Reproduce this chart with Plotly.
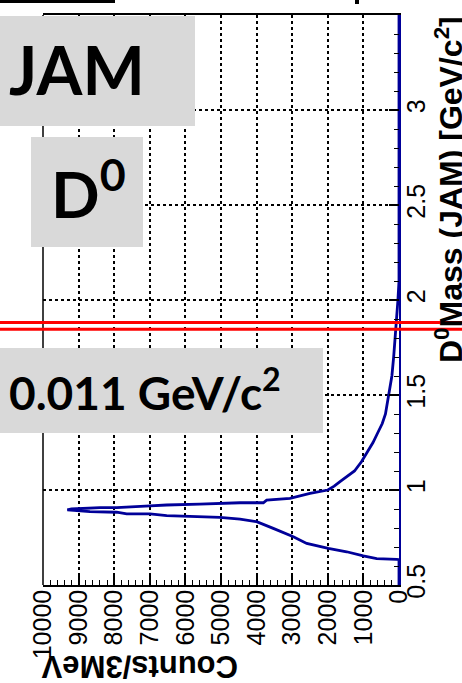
import plotly.graph_objects as go

# ---- data ----
mass = [0.500, 0.634, 0.635, 0.639, 0.653, 0.675, 0.693, 0.719, 0.754, 0.781,
        0.798, 0.833, 0.847, 0.856, 0.865, 0.874, 0.874, 0.883, 0.886, 0.895,
        0.900, 0.907, 0.907, 0.916, 0.921, 0.926, 0.930, 0.933, 0.933, 0.947,
        0.956, 0.970, 0.982, 1.000, 1.020, 1.044, 1.070, 1.100, 1.150, 1.200, 1.250, 1.300,
        1.350, 1.400, 1.500, 1.600, 1.700, 1.800, 1.900, 2.000, 2.100, 3.500]
counts = [0, 0, 65, 626, 1003, 1470, 1986, 2593, 2968, 3343,
          3532, 4000, 4466, 5030, 6525, 6994, 7649, 7930, 8680, 9317,
          9200, 8399, 7930, 6994, 6525, 5600, 5000, 4466, 3811, 3717,
          3062, 2750, 2500, 2000, 1820, 1657, 1470, 1250, 1050, 880, 730, 600,
          470, 380, 280, 200, 150, 105, 60, 30, 0, 0]

count_ticks = [0, 1000, 2000, 3000, 4000, 5000, 6000, 7000, 8000, 9000, 10000]
count_labels = ["0", "1000", "2000", "3000", "4000", "5000", "6000", "7000", "8000", "9000", "10000"]
mass_ticks = [0.5, 1.0, 1.5, 2.0, 2.5, 3.0, 3.5]
mass_labels = ["0.5", "1", "1.5", "2", "2.5", "3", "3.5"]
window_lines = [1.846, 1.881]

# ---- layout geometry (pixels) ----
W, H = 462, 683
L, R, T, B = 43, 63, 15, 98
PW, PH = W - L - R, H - T - B


def px(x):
    return (x - L) / PW


def py(y):
    return (H - B - y) / PH


BLUE = "#000099"
GRAY = "#d9d9d9"
TICKFONT = dict(family="Liberation Sans, Arial, sans-serif", size=25, color="black")

fig = go.Figure()
fig.add_trace(go.Scatter(x=counts, y=mass, mode="lines",
                         line=dict(color=BLUE, width=2.8), showlegend=False,
                         hoverinfo="skip"))

grid = dict(showgrid=True, gridcolor="black", gridwidth=1.6, griddash="3px,3px")

fig.update_xaxes(range=[10000, 0], tickmode="array", tickvals=count_ticks,
                 ticktext=count_labels, tickangle=-90, ticks="inside",
                 ticklen=10, tickwidth=1.5, tickcolor="black",
                 minor=dict(dtick=200, ticks="inside", ticklen=5, tickwidth=1.2,
                            tickcolor="black", showgrid=False),
                 showline=True, linecolor="black", linewidth=1.5, mirror=True,
                 zeroline=False, tickfont=TICKFONT, ticklabelstandoff=-7, **grid)
fig.update_yaxes(range=[0.5, 3.5], side="right", tickmode="array",
                 tickvals=mass_ticks, ticktext=mass_labels, tickangle=-90,
                 ticks="inside", ticklen=10, tickwidth=1.5, tickcolor="black",
                 minor=dict(dtick=0.1, ticks="inside", ticklen=5, tickwidth=1.2,
                            tickcolor="black", showgrid=False),
                 showline=True, linecolor=BLUE, linewidth=2, mirror=False,
                 zeroline=False, tickfont=TICKFONT, ticklabelstandoff=-6, **grid)

shapes = []
# left frame line
shapes.append(dict(type="line", xref="paper", yref="paper", x0=0, x1=0, y0=0, y1=1,
                   line=dict(color="black", width=1.5), layer="above"))
# gray boxes
for (x0, y0, x1, y1) in [(0, 16, 195, 126), (31, 137, 143, 247), (0, 348, 323, 433)]:
    shapes.append(dict(type="rect", xref="paper", yref="paper",
                       x0=px(x0), x1=px(x1), y0=py(y1), y1=py(y0),
                       fillcolor=GRAY, line=dict(width=0), layer="above"))
# cropped dark marks at top edge
shapes.append(dict(type="rect", xref="paper", yref="paper", x0=px(0), x1=px(115),
                   y0=py(3), y1=py(0), fillcolor="black", line=dict(width=0), layer="above"))
shapes.append(dict(type="rect", xref="paper", yref="paper", x0=px(355), x1=px(359),
                   y0=py(4), y1=py(0), fillcolor="black", line=dict(width=0), layer="above"))
# red mass window lines
for m in window_lines:
    shapes.append(dict(type="line", xref="paper", yref="y", x0=px(0), x1=px(W),
                       y0=m, y1=m, line=dict(color="#ff0000", width=3), layer="above"))
fig.update_layout(shapes=shapes)

BOXFONT = dict(family="Lato, sans-serif", color="black")
ann = []
ann.append(dict(text="<b>JAM</b>", x=px(77), y=py(70), xref="paper", yref="paper",
                showarrow=False, xanchor="center", yanchor="middle",
                font=dict(size=66, **BOXFONT)))
ann.append(dict(text="<b>D<sup>0</sup></b>", x=px(88), y=py(190), xref="paper", yref="paper",
                showarrow=False, xanchor="center", yanchor="middle",
                font=dict(size=64, **BOXFONT)))
ann.append(dict(text="<b>0.011 GeV/c<sup>2</sup></b>", x=px(145), y=py(389), xref="paper",
                yref="paper", showarrow=False, xanchor="center", yanchor="middle",
                font=dict(size=46, **BOXFONT)))
ann.append(dict(text="<b>D<sup>0</sup>Mass (JAM) [GeV/c<sup>2</sup>]</b>", x=px(449), y=py(190),
                xref="paper", yref="paper", showarrow=False, textangle=-90,
                xanchor="center", yanchor="middle",
                font=dict(family="Liberation Sans, Arial, sans-serif", size=32, color="black")))
ann.append(dict(text="<b>Counts/3MeV</b>", x=px(140), y=py(667), xref="paper", yref="paper",
                showarrow=False, textangle=180, xanchor="center", yanchor="middle",
                font=dict(family="Liberation Sans, Arial, sans-serif", size=31, color="black")))
fig.update_layout(annotations=ann)

fig.update_layout(width=W, height=H, margin=dict(l=L, r=R, t=T, b=B, pad=0),
                  paper_bgcolor="white", plot_bgcolor="white", showlegend=False)

fig.write_html("out.html")
